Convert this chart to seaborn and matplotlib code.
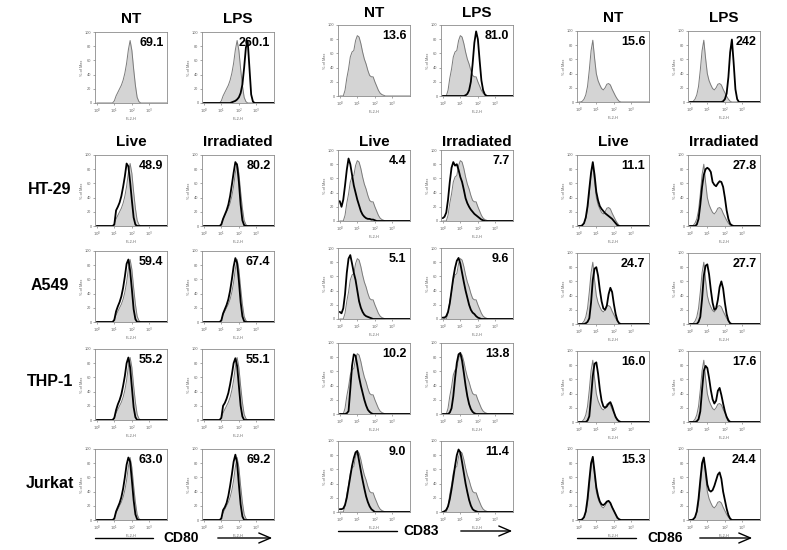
import matplotlib.pyplot as plt
import seaborn as sns

sns.set_theme(style="white")
plt.rcParams['font.family'] = ['Liberation Sans', 'DejaVu Sans']
plt.rcParams['text.color'] = 'black'

# ===== DATA =====
# histogram bins on the FL2-H axis, in log10 units (10^0 .. 10^4)
fl2_log = [i / 10 for i in range(41)]
x_ticks = [0, 1, 2, 3]
x_tick_labels = ['$10^0$', '$10^1$', '$10^2$', '$10^3$']
y_ticks = [0, 20, 40, 60, 80, 100]

markers = ['CD80', 'CD83', 'CD86']
top_titles = ['NT', 'LPS']
cond_titles = ['Live', 'Irradiated']
cell_lines = ['HT-29', 'A549', 'THP-1', 'Jurkat']

# MFI values printed in each panel: [NT, LPS] and per cell line [Live, Irradiated]
mfi_top_cd80 = ['69.1', '260.1']
mfi_top_cd83 = ['13.6', '81.0']
mfi_top_cd86 = ['15.6', '242']
mfi_cd80 = [['48.9', '80.2'], ['59.4', '67.4'], ['55.2', '55.1'], ['63.0', '69.2']]
mfi_cd83 = [['4.4', '7.7'], ['5.1', '9.6'], ['10.2', '13.8'], ['9.0', '11.4']]
mfi_cd86 = [['11.1', '27.8'], ['24.7', '27.7'], ['16.0', '17.6'], ['15.3', '24.4']]

# % of max, read per bin (trailing bins are zero)
cd80_gray = [0, 0, 0, 0, 0, 0, 0, 0, 0, 0, 3, 10, 15, 20, 25, 32, 42, 56, 75, 88, 74, 48, 25, 8, 2]
cd80_lps = [0, 0, 0, 0, 0, 0, 0, 0, 0, 0, 0, 0, 0, 0, 0, 0, 1, 2, 3, 5, 8, 14, 26, 50, 78, 88, 50, 12, 2]
cd80_ht29_live = [0, 0, 0, 0, 0, 0, 0, 0, 0, 0, 2, 22, 27, 33, 42, 55, 70, 88, 84, 62, 36, 12, 2]
cd80_ht29_irr = [0, 0, 0, 0, 0, 0, 0, 0, 0, 0, 2, 10, 16, 22, 30, 42, 58, 75, 90, 86, 62, 30, 8, 1]
cd80_a549_live = [0, 0, 0, 0, 0, 0, 0, 0, 0, 0, 3, 15, 22, 28, 36, 48, 64, 82, 88, 72, 46, 18, 4]
cd80_a549_irr = [0, 0, 0, 0, 0, 0, 0, 0, 0, 0, 2, 12, 18, 24, 32, 44, 60, 78, 90, 83, 58, 28, 8, 1]
cd80_thp1_live = [0, 0, 0, 0, 0, 0, 0, 0, 0, 0, 3, 14, 22, 28, 36, 48, 62, 80, 88, 74, 46, 18, 4]
cd80_thp1_irr = [0, 0, 0, 0, 0, 0, 0, 0, 0, 0, 3, 20, 24, 30, 38, 50, 64, 80, 87, 76, 48, 20, 5]
cd80_jurkat_live = [0, 0, 0, 0, 0, 0, 0, 0, 0, 0, 2, 12, 18, 24, 32, 44, 60, 78, 88, 82, 56, 28, 8, 1]
cd80_jurkat_irr = [0, 0, 0, 0, 0, 0, 0, 0, 0, 0, 2, 14, 18, 24, 34, 48, 64, 82, 92, 80, 50, 22, 5]

cd83_gray = [0, 0, 0, 8, 25, 38, 55, 62, 64, 78, 85, 83, 74, 62, 52, 45, 36, 29, 27, 27, 20, 14, 8, 4, 2, 1]
cd83_lps = [0, 0, 0, 0, 0, 0, 0, 0, 0, 0, 0, 0, 0, 1, 3, 8, 20, 45, 75, 91, 80, 50, 22, 8, 2]
cd83_ht29_live = [28, 20, 30, 50, 72, 88, 80, 65, 50, 40, 30, 22, 14, 9, 6, 4, 3, 3, 2, 2, 1]
cd83_ht29_irr = [4, 6, 12, 30, 55, 75, 83, 78, 80, 72, 62, 55, 44, 32, 25, 20, 16, 13, 10, 8, 6, 4, 2, 1]
cd83_a549_live = [10, 8, 15, 35, 65, 85, 90, 78, 65, 55, 40, 25, 16, 10, 6, 4, 3, 2, 1]
cd83_a549_irr = [2, 2, 4, 10, 22, 40, 58, 72, 82, 86, 78, 65, 52, 40, 30, 20, 13, 9, 7, 4, 2, 1]
cd83_thp1_live = [0, 0, 0, 0, 1, 4, 35, 68, 84, 82, 68, 52, 40, 30, 20, 12, 6, 3, 1]
cd83_thp1_irr = [0, 0, 0, 0, 2, 8, 25, 50, 72, 84, 86, 75, 58, 40, 25, 14, 7, 3, 1]
cd83_jurkat_live = [4, 4, 5, 10, 20, 35, 50, 65, 76, 84, 86, 72, 58, 45, 33, 22, 14, 8, 4, 2]
cd83_jurkat_irr = [0, 1, 3, 8, 18, 32, 48, 65, 80, 88, 84, 70, 55, 40, 28, 17, 9, 4, 2, 1]

cd86_gray = [0, 0, 1, 4, 10, 22, 45, 72, 87, 62, 40, 30, 24, 19, 17, 20, 25, 26, 24, 18, 13, 8, 4, 1]
cd86_lps = [0, 0, 0, 0, 0, 0, 0, 0, 0, 0, 0, 0, 0, 0, 0, 0, 0, 0, 0, 1, 4, 12, 35, 70, 88, 55, 18, 4]
cd86_ht29_live = [0, 0, 1, 4, 12, 28, 52, 75, 90, 72, 48, 36, 28, 24, 21, 18, 16, 14, 12, 10, 7, 4, 1]
cd86_ht29_irr = [0, 0, 0, 0, 2, 10, 30, 55, 72, 80, 82, 80, 76, 62, 58, 56, 60, 63, 62, 55, 40, 22, 10, 3, 1]
cd86_a549_live = [0, 0, 0, 0, 1, 3, 8, 30, 62, 78, 80, 68, 48, 32, 22, 20, 26, 42, 51, 45, 28, 14, 5, 1]
cd86_a549_irr = [0, 0, 0, 0, 0, 3, 10, 35, 68, 82, 84, 70, 48, 30, 20, 22, 34, 52, 60, 50, 30, 14, 5, 1]
cd86_thp1_live = [0, 0, 0, 0, 0, 2, 8, 35, 65, 82, 84, 68, 46, 30, 22, 20, 22, 26, 28, 22, 14, 7, 3, 1]
cd86_thp1_irr = [0, 0, 0, 0, 1, 4, 15, 45, 72, 79, 76, 62, 45, 32, 26, 30, 44, 48, 38, 26, 15, 7, 2]
cd86_jurkat_live = [0, 0, 1, 4, 12, 30, 56, 80, 89, 68, 46, 34, 26, 22, 21, 23, 26, 27, 24, 18, 13, 8, 3, 1]
cd86_jurkat_irr = [0, 0, 1, 4, 12, 30, 56, 80, 88, 70, 50, 42, 40, 42, 48, 56, 64, 67, 58, 40, 28, 16, 7, 2]

groups = {
    'CD80': (cd80_gray, cd80_lps, mfi_top_cd80, mfi_cd80,
             [(cd80_ht29_live, cd80_ht29_irr), (cd80_a549_live, cd80_a549_irr),
              (cd80_thp1_live, cd80_thp1_irr), (cd80_jurkat_live, cd80_jurkat_irr)]),
    'CD83': (cd83_gray, cd83_lps, mfi_top_cd83, mfi_cd83,
             [(cd83_ht29_live, cd83_ht29_irr), (cd83_a549_live, cd83_a549_irr),
              (cd83_thp1_live, cd83_thp1_irr), (cd83_jurkat_live, cd83_jurkat_irr)]),
    'CD86': (cd86_gray, cd86_lps, mfi_top_cd86, mfi_cd86,
             [(cd86_ht29_live, cd86_ht29_irr), (cd86_a549_live, cd86_a549_irr),
              (cd86_thp1_live, cd86_thp1_irr), (cd86_jurkat_live, cd86_jurkat_irr)]),
}

# ===== LAYOUT (pixels) =====
W, H = 787, 550
box_w, box_h = 72, 71
col_left = {'CD80': (95, 202), 'CD83': (338, 441), 'CD86': (577, 688)}
row_top = {'CD80': (32, 155, 251, 349, 449),
           'CD83': (25, 150, 248, 343, 441),
           'CD86': (31, 155, 253, 351, 449)}
title_y = {'CD80': 19, 'CD83': 13, 'CD86': 18}
label_y = {'CD80': 538, 'CD83': 531, 'CD86': 538}
label_x = {'CD80': (95, 153, 181, 215, 275),
           'CD83': (338, 397, 421, 458, 515),
           'CD86': (577, 636, 665, 697, 755)}
row_label_y = [189, 285, 382, 483]


def full(curve):
    return curve + [0] * (len(fl2_log) - len(curve))


def draw_panel(left, top, gray, black, value):
    ax = fig.add_axes([left / W, (H - top - box_h) / H, box_w / W, box_h / H])
    g = full(gray)
    ax.fill_between(fl2_log, g, color='#d4d4d4', lw=0)
    sns.lineplot(x=fl2_log, y=g, ax=ax, color='#7a7a7a', lw=0.7)
    if black is not None:
        sns.lineplot(x=fl2_log, y=full(black), ax=ax, color='black', lw=1.3)
    ax.set_xlim(-0.1, 4.0)
    ax.set_ylim(0, 100)
    ax.set_xticks(x_ticks)
    ax.set_xticklabels(x_tick_labels)
    ax.set_yticks(y_ticks)
    ax.tick_params(labelsize=2.8, length=1.5, width=0.4, pad=1,
                   colors='#666666', left=True, bottom=True)
    ax.set_xlabel('FL2-H', fontsize=2.8, labelpad=1, color='#666666')
    ax.set_ylabel('% of Max', fontsize=2.8, labelpad=1, color='#666666')
    for s in ax.spines.values():
        s.set_color('#8c8c8c')
        s.set_linewidth(0.6)
    ax.text(0.95, 0.85, value, transform=ax.transAxes, ha='right', va='center',
            fontsize=9, fontweight='bold', color='black')
    return ax


fig = plt.figure(figsize=(W / 100, H / 100), dpi=100)
ov = fig.add_axes([0, 0, 1, 1], zorder=-1)
ov.set_xlim(0, W)
ov.set_ylim(H, 0)
ov.axis('off')

for m in markers:
    gray, lps, mfi_top, mfi_rows, rows = groups[m]
    lefts = col_left[m]
    tops = row_top[m]
    # top row: NT and LPS
    draw_panel(lefts[0], tops[0], gray, None, mfi_top[0])
    draw_panel(lefts[1], tops[0], gray, lps, mfi_top[1])
    for j, t in enumerate(top_titles):
        ov.text(lefts[j] + box_w / 2, title_y[m], t, ha='center', va='center',
                fontsize=11, fontweight='bold', color='black')
    for j, t in enumerate(cond_titles):
        ov.text(lefts[j] + box_w / 2, 142, t, ha='center', va='center',
                fontsize=11, fontweight='bold', color='black')
    # cell line rows: Live and Irradiated
    for r, (live, irr) in enumerate(rows):
        draw_panel(lefts[0], tops[r + 1], gray, live, mfi_rows[r][0])
        draw_panel(lefts[1], tops[r + 1], gray, irr, mfi_rows[r][1])
    # marker label with line and arrow
    x0, x1, xc, a0, a1 = label_x[m]
    y = label_y[m]
    ov.plot([x0, x1], [y, y], color='black', lw=1)
    ov.text(xc, y, m, ha='center', va='center', fontsize=10, fontweight='bold',
            color='black')
    ov.annotate('', xy=(a1, y), xytext=(a0, y),
                arrowprops=dict(arrowstyle='->,head_length=0.7,head_width=0.3',
                                color='black', lw=1))

for r, name in enumerate(cell_lines):
    ov.text(50, row_label_y[r], name, ha='center', va='center',
            fontsize=11.5, fontweight='bold', color='black')

plt.savefig('out.png', dpi=100)
plt.close()
